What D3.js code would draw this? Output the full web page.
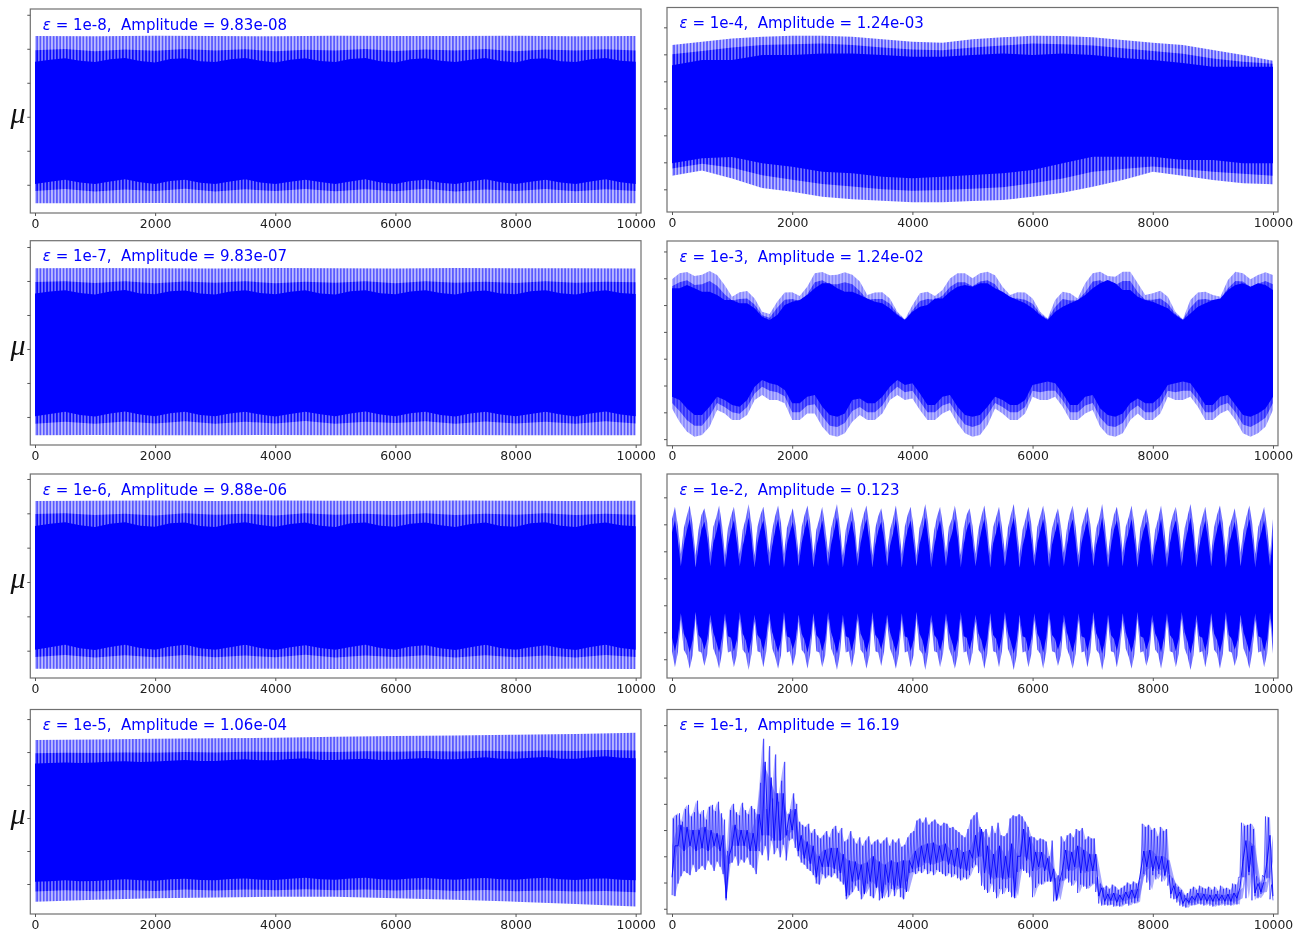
<!DOCTYPE html>
<html>
<head>
<meta charset="utf-8">
<script src="https://cdn.jsdelivr.net/npm/d3@7"></script>
<style>
html, body { margin: 0; padding: 0; background: #fff; }
svg { display: block; filter: blur(0.5px); }
text { font-family: "DejaVu Sans", sans-serif; }
</style>
</head>
<body>
<svg id="chart" width="1305" height="936"></svg>
<script>
// tick labels
var xTickValues = [0, 2000, 4000, 6000, 8000, 10000];

// values below are read off the picture, mu in units of the panel's scale
// eps 1e-8 (x 1e-8)
var e8OuterTop = [4.75,4.74,4.76,4.75,4.74,4.76,4.75,4.75,4.76,4.74,4.75];
var e8OuterBot = [-5.08,-5.09,-5.07,-5.08,-5.09,-5.08,-5.07,-5.09,-5.08,-5.07,-5.08];
var e8MidTop = [3.92,3.98,3.86,3.96,3.88,3.98,3.9,3.97,3.86,3.95,3.9,3.98,3.87,3.96,3.9,3.98,3.86,3.96,3.9,3.97,3.9];
var e8MidBot = [-4.36,-4.25,-4.4,-4.28,-4.36,-4.24,-4.4,-4.27,-4.36,-4.25,-4.38,-4.26,-4.38,-4.24,-4.4,-4.28,-4.36,-4.25,-4.38,-4.27,-4.36];
var e8SolidTop = [3.24,3.36,3.44,3.3,3.22,3.38,3.46,3.28,3.2,3.4,3.45,3.26,3.22,3.38,3.46,3.3,3.2,3.36,3.45,3.28,3.22,3.4,3.46,3.26,3.2,3.38,3.44,3.3,3.22,3.36,3.46,3.28,3.2,3.4,3.45,3.26,3.22,3.38,3.46,3.3,3.24];
var e8SolidBot = [-3.95,-3.82,-3.7,-3.86,-3.96,-3.8,-3.68,-3.85,-3.96,-3.78,-3.7,-3.88,-3.95,-3.8,-3.68,-3.86,-3.96,-3.82,-3.7,-3.84,-3.96,-3.8,-3.68,-3.86,-3.95,-3.78,-3.7,-3.88,-3.96,-3.8,-3.68,-3.85,-3.95,-3.82,-3.7,-3.86,-3.96,-3.8,-3.68,-3.85,-3.95];

// eps 1e-7 (x 1e-7)
var e7OuterTop = [4.75,4.76,4.75,4.74,4.76,4.75,4.74,4.76,4.75,4.75,4.74];
var e7OuterBot = [-5.07,-5.06,-5.08,-5.07,-5.06,-5.08,-5.07,-5.06,-5.08,-5.07,-5.07];
var e7MidTop = [3.94,3.98,3.88,3.98,3.86,3.97,3.9,3.98,3.87,3.96,3.9,3.98,3.86,3.98,3.9,3.96,3.88,3.98,3.9,3.96,3.92];
var e7MidBot = [-4.4,-4.28,-4.4,-4.26,-4.38,-4.25,-4.4,-4.28,-4.38,-4.24,-4.4,-4.28,-4.36,-4.25,-4.4,-4.26,-4.38,-4.28,-4.4,-4.25,-4.38];
var e7SolidTop = [3.26,3.38,3.46,3.3,3.2,3.38,3.47,3.26,3.22,3.4,3.44,3.26,3.2,3.38,3.46,3.3,3.22,3.36,3.46,3.26,3.2,3.4,3.45,3.28,3.22,3.38,3.46,3.3,3.2,3.38,3.44,3.26,3.22,3.4,3.46,3.28,3.2,3.36,3.45,3.3,3.24];
var e7SolidBot = [-3.96,-3.82,-3.7,-3.88,-3.98,-3.8,-3.68,-3.85,-3.96,-3.78,-3.7,-3.88,-3.96,-3.8,-3.7,-3.86,-3.98,-3.82,-3.7,-3.84,-3.96,-3.8,-3.68,-3.86,-3.96,-3.78,-3.7,-3.88,-3.98,-3.8,-3.7,-3.85,-3.96,-3.82,-3.7,-3.86,-3.98,-3.8,-3.68,-3.85,-3.96];

// eps 1e-6 (x 1e-6)
var e6OuterTop = [4.72,4.73,4.74,4.72,4.74,4.73,4.72,4.74,4.73,4.72,4.73];
var e6OuterBot = [-5.05,-5.06,-5.05,-5.07,-5.05,-5.06,-5.05,-5.07,-5.06,-5.05,-5.06];
var e6MidTop = [3.96,4.0,3.9,3.98,3.88,4.0,3.92,3.98,3.88,4.0,3.92,3.98,3.9,4.0,3.9,3.98,3.92,4.0,3.9,3.98,3.92];
var e6MidBot = [-4.36,-4.25,-4.4,-4.27,-4.38,-4.25,-4.38,-4.28,-4.38,-4.24,-4.4,-4.28,-4.36,-4.26,-4.4,-4.26,-4.38,-4.28,-4.4,-4.25,-4.36];
var e6SolidTop = [3.26,3.4,3.48,3.3,3.2,3.4,3.48,3.28,3.22,3.42,3.46,3.26,3.2,3.4,3.48,3.32,3.22,3.38,3.46,3.28,3.2,3.42,3.47,3.28,3.22,3.4,3.46,3.3,3.2,3.38,3.46,3.26,3.22,3.42,3.48,3.28,3.2,3.38,3.46,3.3,3.24];
var e6SolidBot = [-3.94,-3.8,-3.66,-3.86,-3.96,-3.78,-3.66,-3.84,-3.95,-3.76,-3.66,-3.86,-3.94,-3.8,-3.66,-3.84,-3.96,-3.8,-3.68,-3.84,-3.95,-3.78,-3.66,-3.85,-3.94,-3.76,-3.68,-3.86,-3.96,-3.8,-3.66,-3.85,-3.94,-3.8,-3.68,-3.86,-3.96,-3.78,-3.66,-3.85,-3.94];

// eps 1e-5 (x 1e-5)
var e5OuterTop = [4.73,4.76,4.8,4.83,4.87,4.93,4.97,5.0,5.05,5.1,5.17];
var e5OuterBot = [-5.07,-4.96,-4.87,-4.82,-4.77,-4.77,-4.87,-4.96,-5.07,-5.22,-5.37];
var e5MidTop = [3.92,3.95,3.94,3.98,3.96,4.0,3.98,4.02,4.0,4.04,4.0,4.05,4.02,4.06,4.04,4.08,4.04,4.1,4.06,4.12,4.1];
var e5MidBot = [-4.46,-4.38,-4.44,-4.36,-4.42,-4.34,-4.4,-4.33,-4.38,-4.32,-4.38,-4.34,-4.4,-4.34,-4.42,-4.36,-4.44,-4.4,-4.46,-4.42,-4.5];
var e5SolidTop = [3.31,3.34,3.36,3.33,3.36,3.42,3.44,3.4,3.42,3.48,3.52,3.46,3.46,3.52,3.56,3.5,3.5,3.58,3.62,3.52,3.52,3.56,3.6,3.52,3.54,3.6,3.64,3.56,3.56,3.62,3.68,3.6,3.6,3.66,3.7,3.6,3.6,3.68,3.74,3.66,3.62];
var e5SolidBot = [-3.86,-3.84,-3.78,-3.84,-3.82,-3.76,-3.72,-3.78,-3.8,-3.72,-3.68,-3.76,-3.78,-3.7,-3.66,-3.74,-3.76,-3.68,-3.62,-3.72,-3.74,-3.66,-3.62,-3.72,-3.74,-3.66,-3.62,-3.7,-3.74,-3.66,-3.64,-3.72,-3.74,-3.66,-3.62,-3.72,-3.76,-3.68,-3.66,-3.74,-3.78];

// eps 1e-4 (x 1e-4)
var e4OuterTop = [4.69,4.93,5.18,5.3,5.38,5.38,5.3,5.11,4.93,4.86,5.11,5.26,5.38,5.36,5.26,5.06,4.86,4.69,4.32,3.95,3.53];
var e4OuterBot = [-4.99,-4.6,-5.2,-5.9,-6.18,-6.55,-6.73,-6.84,-6.96,-6.96,-6.87,-6.8,-6.55,-6.25,-5.81,-5.31,-4.69,-5.0,-5.31,-5.55,-5.63];
var e4MidTop = [4.0,4.25,4.5,4.7,4.75,4.8,4.7,4.5,4.35,4.3,4.5,4.65,4.8,4.75,4.65,4.45,4.25,4.05,3.7,3.45,3.3];
var e4MidBot = [-4.45,-4.1,-4.4,-4.95,-5.3,-5.6,-5.8,-6.0,-6.1,-6.05,-5.95,-5.85,-5.55,-5.2,-4.7,-4.5,-4.3,-4.5,-4.7,-4.85,-5.0];
var e4SolidTop = [3.2,3.58,3.58,3.95,3.95,4.07,4.07,3.95,3.82,3.82,3.95,4.07,3.95,4.07,3.95,3.72,3.58,3.35,3.08,3.08,3.08];
var e4SolidBot = [-4.07,-3.7,-3.6,-4.07,-4.32,-4.69,-4.81,-5.07,-5.18,-5.07,-4.94,-4.81,-4.57,-4.07,-3.59,-3.59,-3.59,-3.82,-3.82,-4.07,-4.07];

// eps 1e-3 (x 1e-3)
var e3OuterTop = [5.92,6.37,6.47,6.17,6.27,6.54,6.24,5.49,4.63,4.95,5.05,4.5,3.5,3.33,4.25,4.93,4.95,4.68,5.37,6.37,6.47,6.22,6.27,6.44,6.27,5.75,4.75,4.93,4.95,4.5,3.5,2.94,3.98,4.88,5.0,4.68,5.12,5.99,6.37,6.37,6.0,
  6.37,6.49,6.22,5.37,4.75,4.95,4.93,4.5,3.5,3.0,4.38,5.0,4.88,4.5,5.62,6.37,6.49,6.17,6.12,6.49,6.49,5.62,4.75,4.88,5.07,4.63,3.5,2.94,4.38,4.93,5.0,4.75,4.63,5.87,6.49,6.37,5.92,6.24,6.44,6.24];
var e3MidTop = [5.4,5.7,5.85,5.5,5.55,5.8,5.45,4.8,4.35,4.45,4.5,4.05,3.25,3.05,3.8,4.4,4.45,4.3,4.8,5.7,5.85,5.55,5.55,5.7,5.55,5.05,4.4,4.45,4.45,4.1,3.35,2.9,3.6,4.3,4.45,4.4,4.7,5.35,5.7,5.7,5.4,
  5.75,5.85,5.55,4.8,4.5,4.5,4.4,4.1,3.35,2.95,3.85,4.45,4.35,4.35,4.95,5.75,5.85,5.55,5.5,5.8,5.8,4.95,4.4,4.4,4.5,4.1,3.35,2.9,3.8,4.4,4.45,4.35,4.45,5.25,5.8,5.75,5.35,5.6,5.8,5.55];
var e3SolidTop = [5.25,5.25,5.5,5.25,5.0,5.0,4.75,4.38,4.38,4.13,4.13,3.76,3.13,2.89,3.26,4.0,4.25,4.38,4.75,5.25,5.62,5.62,5.25,5.0,5.0,4.75,4.5,4.25,4.13,3.76,3.26,2.89,3.51,3.88,4.0,4.5,4.5,5.0,5.37,5.5,5.37,
  5.62,5.62,5.25,5.0,4.63,4.38,4.13,3.76,3.26,2.89,3.51,3.88,4.13,4.38,4.75,5.25,5.62,5.87,5.62,5.12,5.12,4.63,4.38,4.25,4.0,3.76,3.26,2.89,3.38,3.88,4.13,4.38,4.5,5.12,5.5,5.62,5.37,5.62,5.5,5.12];
var e3SolidBot = [-2.84,-3.08,-3.71,-4.2,-4.2,-3.58,-2.84,-3.08,-3.46,-3.58,-3.08,-2.09,-1.59,-1.84,-1.96,-2.33,-3.33,-3.33,-2.84,-2.71,-3.58,-4.2,-4.33,-4.08,-3.08,-2.96,-3.33,-3.33,-2.84,-2.09,-1.59,-1.96,-1.84,-2.59,-3.46,-3.46,-2.84,-2.71,-3.58,-4.2,-4.33,
  -4.2,-3.58,-2.84,-3.08,-3.46,-3.46,-3.08,-1.96,-1.84,-1.71,-1.84,-2.59,-3.46,-3.46,-2.84,-2.71,-3.71,-4.2,-4.33,-4.08,-3.33,-2.96,-3.33,-3.33,-2.84,-1.96,-1.84,-1.71,-1.84,-2.59,-3.46,-3.46,-2.84,-2.71,-3.46,-4.2,-4.33,-4.08,-3.71,-2.84];
var e3MidBot = [-3.3,-3.9,-4.6,-5.0,-5.0,-4.3,-3.3,-3.6,-4.0,-4.1,-3.6,-2.6,-2.1,-2.4,-2.5,-2.8,-4.0,-4.0,-3.5,-3.4,-4.3,-5.0,-5.1,-4.8,-3.9,-3.6,-4.0,-4.0,-3.5,-2.6,-2.1,-2.5,-2.4,-3.2,-4.0,-4.0,-3.5,-3.3,-4.2,-4.9,-5.1,
  -4.9,-4.2,-3.3,-3.6,-4.0,-4.0,-3.6,-2.4,-2.5,-2.4,-2.4,-3.1,-4.0,-4.0,-3.5,-3.3,-4.4,-5.0,-5.1,-4.8,-3.9,-3.5,-4.0,-4.0,-3.5,-2.4,-2.5,-2.4,-2.4,-3.1,-4.0,-4.0,-3.5,-3.3,-4.0,-4.9,-5.1,-4.8,-4.4,-3.3];
var e3OuterBot = [-3.71,-4.7,-5.45,-5.82,-5.7,-5.07,-3.83,-4.08,-4.58,-4.58,-4.2,-3.08,-2.71,-3.08,-3.08,-3.33,-4.58,-4.58,-4.08,-4.08,-5.07,-5.7,-5.82,-5.57,-4.7,-4.2,-4.58,-4.58,-4.08,-3.08,-2.71,-3.08,-2.96,-3.83,-4.58,-4.58,-4.08,-3.83,-4.82,-5.57,-5.82,
  -5.7,-4.95,-3.71,-4.08,-4.58,-4.58,-4.08,-2.84,-3.08,-3.08,-2.84,-3.58,-4.58,-4.58,-4.08,-3.83,-5.07,-5.7,-5.82,-5.57,-4.58,-4.08,-4.58,-4.58,-4.08,-2.84,-3.08,-3.08,-2.84,-3.58,-4.58,-4.58,-4.08,-3.83,-4.58,-5.57,-5.82,-5.57,-5.07,-3.83];

// eps 1e-2 (x 1e-3), five readings per beat
var e2OuterTop = [44,53,39,18,37, 46,54,40,17,36, 47,52,41,19,38, 45,54,39,17,37, 46,53,38,18,36, 44,55,40,17,38, 47,53,39,19,36, 46,54,41,18,37, 45,52,39,17,38, 47,54,40,18,36, 44,53,38,19,37,
  46,55,39,17,36, 45,53,41,18,38, 47,54,39,17,37, 46,52,40,19,36, 44,54,39,18,38, 47,53,38,17,37, 45,55,40,18,36, 46,53,39,19,38, 44,54,41,17,37, 47,52,39,18,36, 46,54,40,17,38,
  45,53,38,19,37, 47,55,39,18,36, 44,53,40,17,38, 46,54,41,18,37, 45,52,39,19,36, 47,54,38,17,38, 46,53,40,18,37, 44,55,39,17,36, 47,53,41,19,38, 45,54,39,18,37, 46,52,40,17,36,
  44,54,38,18,38, 47,53,39,19,37, 46,55,40,17,36, 45,53,39,18,38, 47,54,41,17,37, 44,52,39,19,36, 46,54,40,18,38, 45,53,38,17,44];
var e2SolidTop = [34,43,28,9,25, 35,44,29,8,24, 36,42,30,9,26, 34,44,28,8,25, 35,43,27,9,24, 33,45,29,8,26, 36,43,28,9,24, 35,44,30,8,25, 34,42,28,9,26, 36,44,29,8,24, 33,43,27,9,25,
  35,45,28,8,24, 34,43,30,9,26, 36,44,28,8,25, 35,42,29,9,24, 33,44,28,8,26, 36,43,27,9,25, 34,45,29,8,24, 35,43,28,9,26, 33,44,30,8,25, 36,42,28,9,24, 35,44,29,8,26,
  34,43,27,9,25, 36,45,28,8,24, 33,43,29,9,26, 35,44,30,8,25, 34,42,28,9,24, 36,44,27,8,26, 35,43,29,9,25, 33,45,28,8,24, 36,43,30,9,26, 34,44,28,8,25, 35,42,29,9,24,
  33,44,27,8,26, 36,43,28,9,25, 35,45,29,8,24, 34,43,28,9,26, 36,44,30,8,25, 33,42,28,9,24, 35,44,29,8,26, 34,43,27,9,32];
var e2SolidBot = [-44,-54,-44,-26,-41, -46,-55,-46,-25,-42, -45,-53,-45,-27,-40, -47,-55,-44,-26,-43, -44,-54,-46,-25,-41, -46,-56,-45,-27,-42, -45,-54,-43,-26,-40, -47,-55,-46,-25,-43, -44,-53,-45,-27,-41, -46,-55,-44,-26,-42, -45,-54,-46,-25,-40,
  -47,-56,-45,-27,-43, -44,-54,-44,-26,-41, -46,-55,-46,-25,-42, -45,-53,-43,-27,-40, -47,-55,-45,-26,-43, -44,-54,-46,-25,-41, -46,-56,-44,-27,-42, -45,-54,-45,-26,-40, -47,-55,-46,-25,-43, -44,-53,-44,-27,-41, -46,-55,-45,-26,-42,
  -45,-54,-43,-25,-40, -47,-56,-46,-27,-43, -44,-54,-45,-26,-41, -46,-55,-44,-25,-42, -45,-53,-46,-27,-40, -47,-55,-45,-26,-43, -44,-54,-44,-25,-41, -46,-56,-46,-27,-42, -45,-54,-43,-26,-40, -47,-55,-45,-25,-43, -44,-53,-46,-27,-41,
  -46,-55,-44,-26,-42, -45,-54,-45,-25,-40, -47,-56,-46,-27,-43, -44,-54,-44,-26,-41, -46,-55,-45,-25,-42, -45,-53,-46,-27,-40, -47,-55,-43,-26,-43, -44,-54,-45,-25,-44];
var e2OuterBot = [-54,-66,-55,-31,-53, -57,-67,-57,-30,-54, -55,-65,-56,-32,-52, -58,-67,-55,-31,-55, -54,-66,-57,-30,-53, -56,-68,-56,-32,-54, -55,-66,-54,-31,-52, -58,-67,-57,-30,-55, -54,-65,-56,-32,-53, -56,-67,-55,-31,-54, -55,-66,-57,-30,-52,
  -58,-68,-56,-32,-55, -54,-66,-55,-31,-53, -56,-67,-57,-30,-54, -55,-65,-54,-32,-52, -58,-67,-56,-31,-55, -54,-66,-57,-30,-53, -56,-68,-55,-32,-54, -55,-66,-56,-31,-52, -58,-67,-57,-30,-55, -54,-65,-55,-32,-53, -56,-67,-56,-31,-54,
  -55,-66,-54,-30,-52, -58,-68,-57,-32,-55, -54,-66,-56,-31,-53, -56,-67,-55,-30,-54, -55,-65,-57,-32,-52, -58,-67,-56,-31,-55, -54,-66,-55,-30,-53, -56,-68,-57,-32,-54, -55,-66,-54,-31,-52, -58,-67,-56,-30,-55, -54,-65,-57,-32,-53,
  -56,-67,-55,-31,-54, -55,-66,-56,-30,-52, -58,-68,-57,-32,-55, -54,-66,-55,-31,-53, -56,-67,-56,-30,-54, -55,-65,-57,-32,-52, -58,-67,-54,-31,-55, -54,-66,-56,-30,-56];

// eps 1e-1, a low and a high reading every 50 steps
var e1Mu = [1.3,8.6,1.2,8.9,2.4,9.1,3.1,8.3,3.6,9.5,3.4,9.9,3.2,8.8,4.2,9.2,3.5,10.3,3.8,9.0,
  4.1,9.4,3.7,8.5,4.6,9.7,4.2,9.9,3.6,9.3,4.5,10.2,4.0,9.1,3.3,8.5,0.8,5.5,4.3,9.4,
  4.4,10.0,5.0,9.2,4.1,8.9,4.7,10.1,4.4,9.4,4.9,9.0,4.2,9.8,3.9,9.5,3.3,9.0,5.5,12.0,
  5.1,16.2,6.0,9.5,4.6,15.5,6.5,10.5,5.2,14.7,5.8,10.2,4.9,12.2,6.1,14.0,4.6,7.5,6.5,9.5,
  6.7,11.0,5.8,10.0,5.0,8.3,4.4,8.0,4.2,7.8,3.8,8.1,3.6,7.2,3.2,7.6,2.4,7.0,2.3,6.7,
  3.3,7.0,2.9,7.4,3.2,6.8,3.0,7.6,3.4,7.9,2.9,7.2,2.6,7.7,2.3,6.4,0.9,6.6,1.3,7.4,
  1.6,6.7,2.2,6.2,1.7,6.8,0.9,6.0,1.5,6.5,2.4,6.9,1.2,6.1,1.0,6.4,2.1,6.6,0.8,6.2,
  1.5,6.5,2.3,6.8,1.1,6.0,1.9,6.6,1.2,6.3,2.2,6.7,1.1,5.9,0.9,6.1,2.6,6.8,3.4,7.2,
  3.5,7.4,3.3,8.4,3.6,8.6,3.4,8.2,3.8,8.7,3.3,8.0,3.6,8.3,3.2,8.5,3.7,8.1,3.5,7.9,
  3.3,8.2,3.1,8.1,3.4,7.7,3.0,7.8,3.3,7.5,2.9,7.3,2.7,7.0,3.0,6.8,2.8,7.6,3.2,8.5,
  3.9,8.9,4.2,9.2,3.4,7.8,2.2,7.3,1.8,7.6,1.5,6.8,2.4,7.9,1.6,7.2,1.0,8.2,1.9,7.0,
  1.4,6.9,2.0,7.2,1.6,8.6,1.1,8.9,1.0,8.8,3.5,9.0,3.8,8.8,3.6,8.3,3.4,7.8,3.0,6.9,
  1.1,6.8,2.0,6.5,2.4,6.7,2.3,6.6,2.6,6.4,2.6,5.0,2.6,6.5,0.7,2.9,1.0,3.2,2.6,6.9,
  2.7,6.4,2.9,7.0,2.5,7.2,2.2,6.8,2.7,7.6,1.5,7.4,2.3,7.7,2.1,6.6,1.9,6.9,2.2,6.7,
  2.4,6.7,1.6,3.0,0.5,2.4,0.3,2.0,0.4,2.2,0.3,1.9,0.4,2.3,0.2,2.1,0.3,1.8,0.2,2.0,
  0.4,2.2,0.5,2.5,0.3,2.3,0.6,2.6,0.5,2.4,0.7,2.7,3.0,8.1,3.3,7.8,2.5,8.0,1.8,7.5,
  3.2,7.7,2.8,6.9,3.3,7.8,2.6,7.4,3.1,7.6,2.2,3.2,1.0,2.9,0.9,2.4,0.6,2.1,0.3,1.8,
  0.2,1.3,0.1,1.5,0.4,1.9,0.3,2.1,0.4,1.8,0.5,2.2,0.4,2.0,0.3,1.9,0.5,2.1,0.3,1.8,
  0.2,2.1,0.4,1.7,0.3,2.2,0.5,1.9,0.3,2.0,0.4,1.8,0.3,2.4,0.5,2.3,0.4,3.0,3.0,8.2,
  3.0,7.9,1.0,8.0,3.2,8.1,0.8,7.6,1.2,3.1,1.0,2.5,1.4,3.2,3.0,8.8,2.9,8.7,0.9,2.3,0.8];
// the darker core of the same line, a low and a high reading every 100 steps
var e1Core = [3,6,6,8,5.5,7.8,6,7.5,5.5,7.5,5.8,7.8,5.5,7.5,6,7.2,5.5,7,1,5,
  6,8,6,7.5,6,7.5,5.5,7.2,5.5,9,7,14,7,12.5,6.5,11,6.5,11,7,9,
  7.5,9.5,5.5,7,4.8,6.4,4.3,6,3,5,4,5.6,4,5.8,3.8,5.8,3.4,5.2,1.2,4.6,
  2.6,4.5,2.8,4.2,1.4,4.4,2.6,5,2,4.5,1,4.2,2.5,4.6,1.8,4.4,2,4.6,1.6,4.6,
  3.8,5.5,4,6,4.4,6.2,4.2,6.3,4.4,6,4.6,6.2,4.2,5.6,4,5.8,3.8,5.4,3.6,5.6,
  4.8,7,5,7.6,3.4,6,2.8,5.2,3,6,2.8,5,3,6.2,1.2,5,5,7.6,4.6,6.8,
  3.6,5.4,4,5.4,3.6,4.8,2.6,3.8,0.8,2.5,3.8,5.6,3.6,5.4,4,6,3.4,5.6,3.6,5.2,
  3.6,5.2,1.2,2,0.7,1.4,0.8,1.5,0.6,1.3,0.8,1.6,1,1.8,1,1.9,3.6,5.5,4,5.6,
  3.6,5,3.8,5,3.2,4.6,1.4,2.2,1,1.6,0.5,1,0.6,1.2,0.8,1.5,0.8,1.4,0.7,1.3,
  0.7,1.4,0.8,1.3,0.7,1.4,0.7,1.5,1,2,4.5,6.5,3.5,6,1.5,2.4,1.6,2.6,4.5,7,1.2];

// panel titles
var epsLabels = ["1e-8","1e-7","1e-6","1e-5","1e-4","1e-3","1e-2","1e-1"];
var ampLabels = ["9.83e-08","9.83e-07","9.88e-06","1.06e-04","1.24e-03","1.24e-02","0.123","16.19"];

// layout of the 8 axes: frame l,t,r,b, x range, y tick values, y limits
var leftX = [35, 635.7], rightX = [672, 1273];
var panels = [
  {f:[30.3,9,641,213],      xr:leftX,  ylim:[-5.66,6.34], yt:[-4,-2,0,2,4,6]},
  {f:[30.3,240.7,641,445],  xr:leftX,  ylim:[-5.65,6.37], yt:[-4,-2,0,2,4,6]},
  {f:[30.3,474,641,678],    xr:leftX,  ylim:[-5.59,6.29], yt:[-4,-2,0,2,4,6]},
  {f:[30.3,709.5,641,914],  xr:leftX,  ylim:[-5.82,6.58], yt:[-4,-2,0,2,4,6]},
  {f:[667,7.5,1278,212],    xr:rightX, ylim:[-7.68,7.47], yt:[-6,-4,-2,0,2,4,6]},
  {f:[667,241,1278,445.7],  xr:rightX, ylim:[-6.49,8.78], yt:[-6,-4,-2,0,2,4,6,8]},
  {f:[667,474,1278,678],    xr:rightX, ylim:[-73.9,77.3], yt:[-60,-40,-20,0,20,40,60]},
  {f:[667,709.5,1278,914],  xr:rightX, ylim:[-0.5,18.99], yt:[0,2.5,5,7.5,10,12.5,15,17.5]}
];

var svg = d3.select("#chart");
var defs = svg.append("defs");

function stripes(id, bg, fg, period) {
  var p = defs.append("pattern").attr("id", id)
    .attr("patternUnits", "userSpaceOnUse")
    .attr("width", period).attr("height", 10);
  p.append("rect").attr("width", period).attr("height", 10).attr("fill", bg);
  p.append("rect").attr("width", period / 2).attr("height", 10).attr("fill", fg);
}
stripes("pale", "#bcbcff", "#5a5aff", 3.3);
stripes("mid", "#7474ff", "#0a0aff", 3.3);
stripes("paleFine", "#b4b4ff", "#8a8aff", 3.3);
stripes("midLobe", "#5c5cff", "#3030ff", 3.3);
stripes("spike", "#8e8eff", "#4c4cff", 2.4);

// one filled band between two series, x positions spread over 0..10000
function band(g, x, y, top, bot, fill, opacity) {
  var step = 10000 / (top.length - 1);
  var area = d3.area()
    .x(function(d, i) { return x(i * step); })
    .y0(function(d, i) { return y(bot[i]); })
    .y1(function(d) { return y(d); });
  g.append("path").attr("d", area(top)).attr("fill", fill)
    .attr("fill-opacity", opacity === undefined ? 1 : opacity);
}

function trace(g, x, y, vals, width, opacity) {
  var step = 10000 / (vals.length - 1);
  var line = d3.line()
    .x(function(d, i) { return x(i * step); })
    .y(function(d) { return y(d); });
  g.append("path").attr("d", line(vals))
    .attr("fill", "none").attr("stroke", "#0000ff")
    .attr("stroke-width", width).attr("stroke-opacity", opacity)
    .attr("stroke-linejoin", "bevel");
}

// split a low,high,low,high... series into its two edges
function edge(vals, odd) {
  return vals.filter(function(d, i) { return i % 2 == odd; });
}

panels.forEach(function(p, i) {
  var g = svg.append("g");
  var x = d3.scaleLinear().domain([0, 10000]).range(p.xr);
  var y = d3.scaleLinear().domain(p.ylim).range([p.f[3], p.f[1]]);

  if (i == 0) { band(g,x,y,e8OuterTop,e8OuterBot,"url(#pale)"); band(g,x,y,e8MidTop,e8MidBot,"url(#mid)"); band(g,x,y,e8SolidTop,e8SolidBot,"#0000ff"); }
  if (i == 1) { band(g,x,y,e7OuterTop,e7OuterBot,"url(#pale)"); band(g,x,y,e7MidTop,e7MidBot,"url(#mid)"); band(g,x,y,e7SolidTop,e7SolidBot,"#0000ff"); }
  if (i == 2) { band(g,x,y,e6OuterTop,e6OuterBot,"url(#pale)"); band(g,x,y,e6MidTop,e6MidBot,"url(#mid)"); band(g,x,y,e6SolidTop,e6SolidBot,"#0000ff"); }
  if (i == 3) { band(g,x,y,e5OuterTop,e5OuterBot,"url(#pale)"); band(g,x,y,e5MidTop,e5MidBot,"url(#mid)"); band(g,x,y,e5SolidTop,e5SolidBot,"#0000ff"); }
  if (i == 4) { band(g,x,y,e4OuterTop,e4OuterBot,"url(#pale)"); band(g,x,y,e4MidTop,e4MidBot,"url(#mid)"); band(g,x,y,e4SolidTop,e4SolidBot,"#0000ff"); }
  if (i == 5) { band(g,x,y,e3OuterTop,e3OuterBot,"url(#paleFine)"); band(g,x,y,e3MidTop,e3MidBot,"url(#midLobe)"); band(g,x,y,e3SolidTop,e3SolidBot,"#0000ff"); }
  if (i == 6) { band(g,x,y,e2OuterTop,e2OuterBot,"url(#spike)"); band(g,x,y,e2SolidTop,e2SolidBot,"#0000ff"); }
  if (i == 7) {
    var muHi = edge(e1Mu, 1), muLo = edge(e1Mu, 0);
    var coreHi = edge(e1Core, 1), coreLo = edge(e1Core, 0);
    band(g,x,y,muHi,muLo,"#b2b2ff");
    trace(g,x,y,e1Mu,0.9,0.6);
    band(g,x,y,coreHi,coreLo,"#3a3aff",0.45);
    trace(g,x,y,e1Core,1,0.85);
  }

  // frame
  g.append("rect").attr("x", p.f[0]).attr("y", p.f[1])
    .attr("width", p.f[2] - p.f[0]).attr("height", p.f[3] - p.f[1])
    .attr("fill", "none").attr("stroke", "#707070").attr("stroke-width", 1.2);

  var xAxis = g.append("g").attr("transform", "translate(0," + p.f[3] + ")")
    .call(d3.axisBottom(x).tickValues(xTickValues).tickFormat(d3.format("d")).tickSize(3).tickPadding(3));
  xAxis.select(".domain").remove();
  xAxis.selectAll("line").attr("stroke", "#555");
  xAxis.selectAll("text").attr("font-size", 12.4).attr("fill", "#222").style("font-family", '"DejaVu Sans"');

  var yAxis = g.append("g").attr("transform", "translate(" + p.f[0] + ",0)")
    .call(d3.axisLeft(y).tickValues(p.yt).tickFormat("").tickSize(3));
  yAxis.select(".domain").remove();
  yAxis.selectAll("line").attr("stroke", "#555");

  // title
  var t = g.append("text").attr("x", p.f[0] + 12.5).attr("y", p.f[1] + 20.5)
    .attr("font-size", 15).attr("fill", "#0000ff").style("white-space", "pre");
  t.append("tspan").attr("font-style", "italic").text("\u03b5");
  t.append("tspan").text(" = " + epsLabels[i] + ",  Amplitude = " + ampLabels[i]);

  // mu label on the left column
  if (i < 4) {
    g.append("text").attr("x", 18).attr("y", y(0) + 6)
      .attr("text-anchor", "middle").attr("font-size", 30).attr("font-style", "italic")
      .style("font-family", '"Liberation Serif"').attr("fill", "#111").text("\u03bc");
  }
});
</script>
</body>
</html>
